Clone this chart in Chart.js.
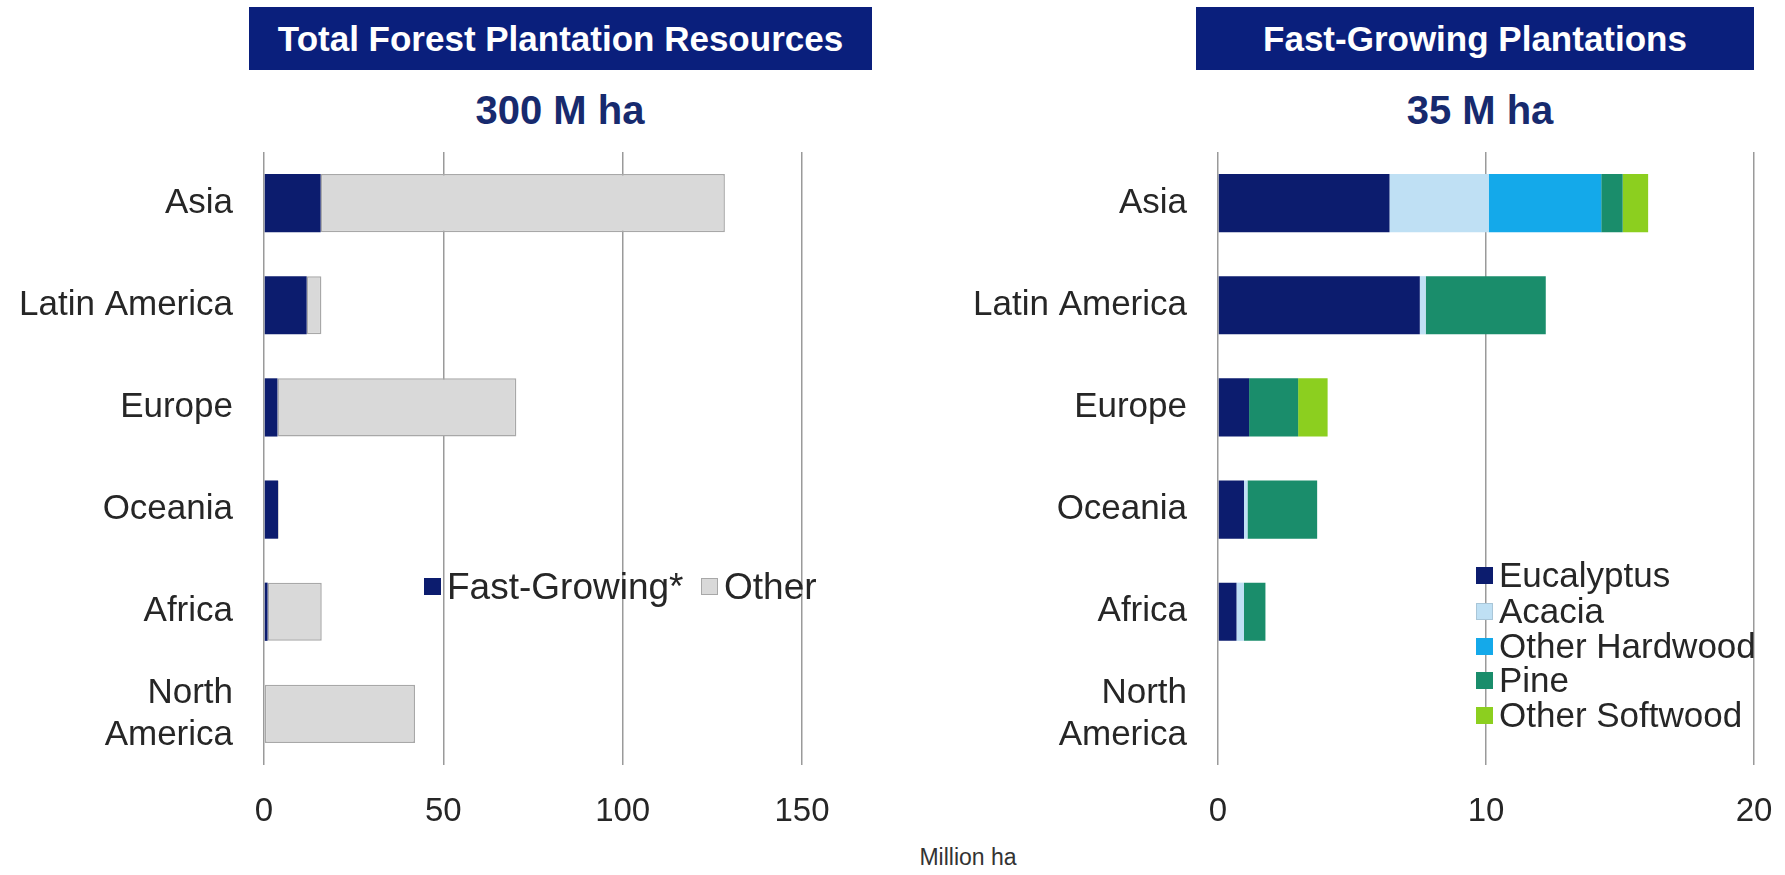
<!DOCTYPE html>
<html>
<head>
<meta charset="utf-8">
<script src="https://cdn.jsdelivr.net/npm/chart.js@4.4.1/dist/chart.umd.min.js"></script>
<style>
  html, body { margin: 0; padding: 0; background: #ffffff; }
  body { width: 1785px; height: 875px; position: relative; overflow: hidden;
         font-family: "Liberation Sans", Arial, Helvetica, sans-serif; color: #262626; }
  .titlebox { position: absolute; top: 7px; height: 63px; background: #0a1f7c; color: #ffffff;
              font-weight: bold; font-size: 35px; display: flex; align-items: center; justify-content: center; }
  .subtitle { position: absolute; top: 86px; height: 48px; line-height: 48px; color: #172a6e;
              font-weight: bold; font-size: 40px; text-align: center; }
  .chartbox { position: absolute; top: 152px; height: 680px; }
  .leg { position: absolute; display: flex; align-items: center; white-space: nowrap; color: #262626; }
  .sw { display: inline-block; width: 17px; height: 17px; box-sizing: border-box; margin-right: 6px; }
  #xtitle { position: absolute; left: 868px; top: 844px; width: 200px; text-align: center;
            font-size: 23px; color: #333333; }
</style>
</head>
<body>
<div class="titlebox" style="left:249px; width:623px;">Total Forest Plantation Resources</div>
<div class="subtitle" style="left:400px; width:320px;">300 M ha</div>
<div class="titlebox" style="left:1196px; width:558px;">Fast-Growing Plantations</div>
<div class="subtitle" style="left:1320px; width:320px;">35 M ha</div>

<div class="chartbox" style="left:0px; width:880px;"><canvas id="left"></canvas></div>
<div class="chartbox" style="left:930px; width:855px;"><canvas id="right"></canvas></div>

<div id="legLeft"></div>
<div id="legRight"></div>
<div id="xtitle">Million ha</div>

<script>
// ---------- data ----------
const regions = ["Asia", "Latin America", "Europe", "Oceania", "Africa", ["North", "America"]];

// Left chart: total forest plantation resources (million ha)
const fastGrowing = [15.8, 11.9, 3.75, 3.9, 1.0, 0];
const otherPlant  = [112.7, 4.1, 66.6, 0.2, 15.1, 42.1];
const leftTicks   = [0, 50, 100, 150];

// Right chart: fast-growing plantations by species group (million ha)
const eucalyptus     = [6.4, 7.53, 1.16, 0.97, 0.69, 0];
const acacia         = [3.7, 0.22, 0, 0.13, 0.28, 0];
const otherHardwood  = [4.2, 0, 0, 0, 0, 0];
const pine           = [0.8, 4.48, 1.83, 2.6, 0.8, 0];
const otherSoftwood  = [0.95, 0, 1.1, 0, 0, 0];
const rightTicks     = [0, 10, 20];

const leftSeriesNames  = ["Fast-Growing*", "Other"];
const rightSeriesNames = ["Eucalyptus", "Acacia", "Other Hardwood", "Pine", "Other Softwood"];

// ---------- styles ----------
const NAVY = "#0c1c6e";
const leftColors  = [NAVY, "#d9d9d9"];
const leftBorders = [NAVY, "#a8a8a8"];
const rightColors = [NAVY, "#bfe0f4", "#14a9ea", "#1a8d6b", "#8ccf1f"];
const rightBorders = [NAVY, "#a9c6d8", "#14a9ea", "#1a8d6b", "#8ccf1f"];

const FONT = '"Liberation Sans", Arial, Helvetica, sans-serif';
Chart.defaults.font.family = FONT;
Chart.defaults.color = "#262626";

function makeOptions(maxVal, step, yWidth, padRight) {
  return {
    indexAxis: "y",
    responsive: true,
    maintainAspectRatio: false,
    animation: false,
    layout: { padding: { left: 0, right: padRight, top: 0, bottom: 0 } },
    plugins: { legend: { display: false }, tooltip: { enabled: false }, title: { display: false } },
    scales: {
      x: {
        type: "linear",
        stacked: true,
        min: 0, max: maxVal,
        ticks: { stepSize: step, padding: 27, font: { size: 33 }, color: "#262626" },
        grid: { display: true, color: "#9a9a9a", lineWidth: 1.5, drawTicks: false },
        border: { display: false },
        afterFit: s => { s.height = 67; s.paddingLeft = 0; s.paddingRight = 0; }
      },
      y: {
        type: "category",
        stacked: true,
        ticks: { padding: 31, font: { size: 35, lineHeight: 1.2 }, color: "#262626", autoSkip: false },
        grid: { display: false, drawTicks: false },
        border: { display: false },
        afterFit: s => { s.width = yWidth; s.paddingTop = 0; s.paddingBottom = 0; }
      }
    }
  };
}

function ds(label, data, bg, bd, bw) {
  return { label, data, backgroundColor: bg, borderColor: bd, borderWidth: bw,
           borderSkipped: false, categoryPercentage: 1.0, barPercentage: 0.57 };
}

new Chart(document.getElementById("left"), {
  type: "bar",
  data: {
    labels: regions,
    datasets: [
      ds(leftSeriesNames[0], fastGrowing, leftColors[0], leftBorders[0], 0),
      ds(leftSeriesNames[1], otherPlant,  leftColors[1], leftBorders[1], 1.5)
    ]
  },
  options: makeOptions(leftTicks[leftTicks.length - 1], leftTicks[1] - leftTicks[0], 264, 78)
});

const rightData = [eucalyptus, acacia, otherHardwood, pine, otherSoftwood];
new Chart(document.getElementById("right"), {
  type: "bar",
  data: {
    labels: regions,
    datasets: rightData.map((d, i) => ds(rightSeriesNames[i], d, rightColors[i], rightBorders[i], 0))
  },
  options: makeOptions(rightTicks[rightTicks.length - 1], rightTicks[1] - rightTicks[0], 288, 31)
});

// ---------- legends (HTML text) ----------
function legendItem(parent, name, color, border, left, centerY, fontSize) {
  const d = document.createElement("div");
  d.className = "leg";
  d.style.left = left + "px";
  d.style.top = (centerY - fontSize * 0.6) + "px";
  d.style.height = (fontSize * 1.2) + "px";
  d.style.fontSize = fontSize + "px";
  const sw = document.createElement("span");
  sw.className = "sw";
  sw.style.background = color;
  if (border !== color) sw.style.border = "1.5px solid " + border;
  const t = document.createElement("span");
  t.textContent = name;
  d.appendChild(sw); d.appendChild(t);
  parent.appendChild(d);
}
const legL = document.getElementById("legLeft");
legendItem(legL, leftSeriesNames[0], leftColors[0], leftBorders[0], 424, 587, 37);
legendItem(legL, leftSeriesNames[1], leftColors[1], leftBorders[1], 701, 587, 37);

const legR = document.getElementById("legRight");
const rowsY = [575, 611, 646, 680, 715];
rightSeriesNames.forEach((n, i) => legendItem(legR, n, rightColors[i], rightBorders[i], 1476, rowsY[i], 35));
</script>
</body>
</html>
